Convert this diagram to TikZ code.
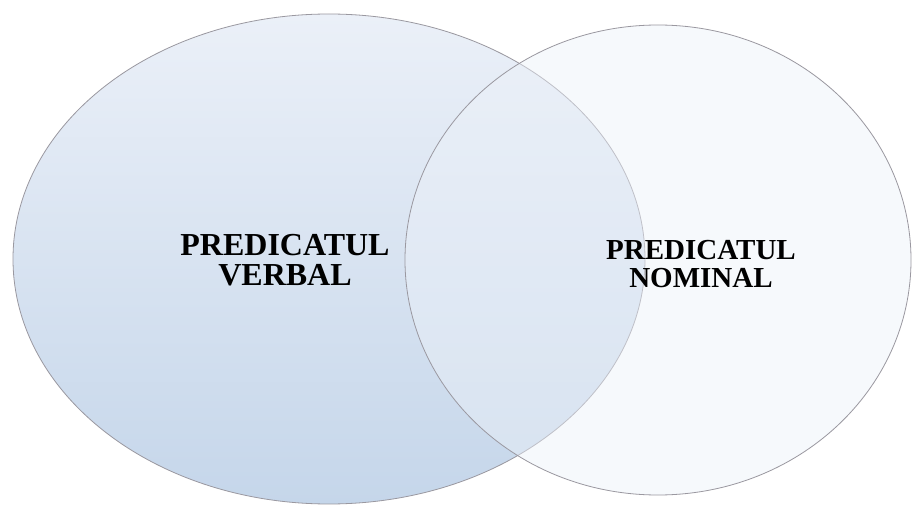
\documentclass[tikz,border=0pt]{standalone}
\usepackage{fontspec}
\setmainfont{Liberation Serif}
\definecolor{gtop}{HTML}{EBF0F8}
\definecolor{gbot}{HTML}{C5D6EA}
\definecolor{rfill}{HTML}{EDF2F9}
\definecolor{edge}{HTML}{9A98A0}
\tikzset{
  venn/.style={draw=edge, line width=0.8pt},
  lbl/.style={align=center, font=\bfseries, inner sep=0pt},
}
\begin{document}
\begin{tikzpicture}[x=1pt,y=-1pt]
\useasboundingbox (0,0) rectangle (922,505);
\fill[white] (0,0) rectangle (922,505);
\path[venn, top color=gtop, bottom color=gbot] (329,259) ellipse [x radius=316, y radius=245];
\path[venn, fill=rfill, fill opacity=0.45] (658,260) ellipse [x radius=253, y radius=235];
\node[lbl, font=\fontsize{32}{30}\selectfont\bfseries] (pv) at (285,260) {PREDICATUL\\VERBAL};
\node[lbl, font=\fontsize{29}{28}\selectfont\bfseries] (pn) at (701,264) {PREDICATUL\\NOMINAL};
\end{tikzpicture}
\end{document}
